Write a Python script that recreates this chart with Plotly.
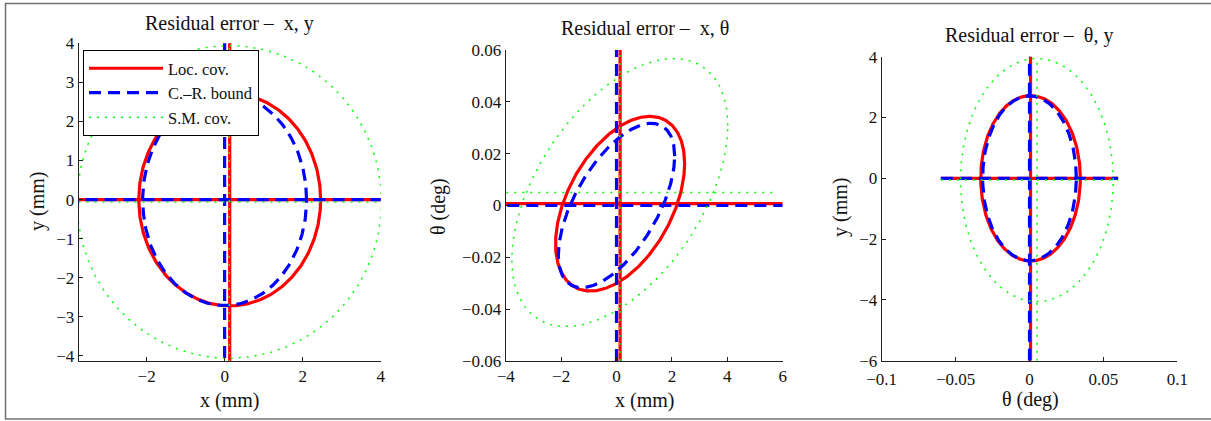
import numpy as np
import plotly.graph_objects as go

# ---------------- data ----------------
series_names = ["Loc. cov.", "C.\u2013R. bound", "S.M. cov."]
series_colors = ["#ff0000", "#0000ff", "#00ff00"]

# ellipse centres for the three state components
center_x = [0.13, 0.0, 0.12]          # mm
center_theta = [0.0007, 0.0, 0.005]   # deg
center_y = [0.0, 0.0, -0.06]          # mm

# standard deviations (1-sigma ellipse half extents)
sigma_x = [2.33, 2.10, 3.90]
sigma_theta = [0.0337, 0.0317, 0.0517]
sigma_y = [2.72, 2.71, 4.00]

# correlation coefficients between components
rho_x_y = [0.0, 0.0, 0.0]
rho_x_theta = [0.46, 0.60, 0.50]
rho_theta_y = [0.0, 0.0, 0.0]

# extents of the cross lines through each centre
x_line_lo = [-6.0, -6.0, -6.0]
x_line_hi = [6.0, 6.0, 5.8]
theta_line_lo = [-0.06, -0.06, -0.06]
theta_line_hi = [0.06, 0.06, 0.06]
y_line_lo = [-6.0, -6.0, -6.0]
y_line_hi = [6.0, 6.0, 6.0]

# axis ticks
p1_xticks = [-2, 0, 2, 4]
p1_yticks = [-4, -3, -2, -1, 0, 1, 2, 3, 4]
p2_xticks = [-4, -2, 0, 2, 4, 6]
p2_yticks = [-0.06, -0.04, -0.02, 0, 0.02, 0.04, 0.06]
p3_xticks = [-0.1, -0.05, 0, 0.05, 0.1]
p3_yticks = [-6, -4, -2, 0, 2, 4]

p1_range_x = [-3.74, 4]
p1_range_y = [-4.13, 4]
p2_range_x = [-4, 6]
p2_range_y = [-0.06, 0.06]
p3_range_x = [-0.1, 0.1]
p3_range_y = [-6, 4]

titles = ["Residual error \u2013  x, y", "Residual error \u2013  x, \u03b8", "Residual error \u2013  \u03b8, y"]
x_titles = ["x (mm)", "x (mm)", "\u03b8 (deg)"]
y_titles = ["y (mm)", "\u03b8 (deg)", "y (mm)"]

# ---------------- helpers ----------------
t = np.linspace(0, 2 * np.pi, 361)


def ellipse(ca, cb, sa, sb, rho):
    a = ca + sa * np.cos(t)
    b = cb + sb * (rho * np.cos(t) + np.sqrt(1 - rho ** 2) * np.sin(t))
    return a, b


def fmt(v):
    if v == 0:
        return "0"
    s = ("%g" % abs(v))
    return ("\u2212" + s) if v < 0 else s


line_w = [3.2, 3.2, 1.5]
dashes = ["solid", "12px,7px", "2px,6px"]

W, H = 1211, 421
FONT = "Liberation Serif, Times New Roman, serif"

fig = go.Figure()

panels = [
    ("x", "y", ""),
    ("x", "theta", "2"),
    ("theta", "y", "3"),
]
centers = {"x": center_x, "theta": center_theta, "y": center_y}
sigmas = {"x": sigma_x, "theta": sigma_theta, "y": sigma_y}
rhos = {("x", "y"): rho_x_y, ("x", "theta"): rho_x_theta, ("theta", "y"): rho_theta_y}
line_lo = {"x": x_line_lo, "theta": theta_line_lo, "y": y_line_lo}
line_hi = {"x": x_line_hi, "theta": theta_line_hi, "y": y_line_hi}

for pi, (ka, kb, sfx) in enumerate(panels):
    for si in range(3):
        ca, cb = centers[ka][si], centers[kb][si]
        ea, eb = ellipse(ca, cb, sigmas[ka][si], sigmas[kb][si], rhos[(ka, kb)][si])
        style = dict(color=series_colors[si], width=line_w[si], dash=dashes[si])
        common = dict(xaxis="x" + sfx, yaxis="y" + sfx, mode="lines", line=style,
                      hoverinfo="skip")
        fig.add_trace(go.Scatter(x=ea, y=eb, name=series_names[si],
                                 showlegend=(pi == 0), **common))
        fig.add_trace(go.Scatter(x=[line_lo[ka][si], line_hi[ka][si]], y=[cb, cb],
                                 showlegend=False, name=series_names[si], **common))
        fig.add_trace(go.Scatter(x=[ca, ca], y=[line_lo[kb][si], line_hi[kb][si]],
                                 showlegend=False, name=series_names[si], **common))


# ---------------- layout ----------------
def px_x(p):
    return p / W


def px_y(p):
    return 1 - p / H


axis_common = dict(showgrid=False, zeroline=False, showline=True, linecolor="#222222",
                   linewidth=1, ticks="inside", ticklen=4, tickcolor="#222222",
                   automargin=False,
                   tickfont=dict(family=FONT, size=17, color="#111111"), mirror=False)

domains = [
    ([78.7, 380.7], [43.3, 361]),
    ([505.7, 782.7], [50, 361]),
    ([881.7, 1177.3], [56.7, 360.7]),
]
ranges = [(p1_range_x, p1_range_y), (p2_range_x, p2_range_y), (p3_range_x, p3_range_y)]
ticks = [(p1_xticks, p1_yticks), (p2_xticks, p2_yticks), (p3_xticks, p3_yticks)]

layout = dict(
    template="none",
    width=W, height=H, margin=dict(l=0, r=0, t=0, b=0, pad=0, autoexpand=False),
    paper_bgcolor="white", plot_bgcolor="white",
    font=dict(family=FONT, size=17, color="#111111"),
    showlegend=True,
    legend=dict(x=px_x(83), y=px_y(50), xanchor="left", yanchor="top",
                bgcolor="white", bordercolor="#000000", borderwidth=1,
                font=dict(family=FONT, size=16.5, color="#111111"),
                tracegroupgap=0, itemwidth=74),
)

title_pos = [(229, 24), (645, 28), (1029, 36)]
xlab_pos = [(229, 400), (644, 400), (1030, 399)]
ylab_pos = [(37, 202), (438, 207), (840, 208)]
annotations = []
for i in range(3):
    sfx = "" if i == 0 else str(i + 1)
    (dx0, dx1), (dy0, dy1) = domains[i]
    xa = dict(axis_common, domain=[px_x(dx0), px_x(dx1)], range=ranges[i][0],
              tickvals=ticks[i][0], ticktext=[fmt(v) for v in ticks[i][0]],
              anchor="y" + sfx)
    if i == 2:
        xa["ticklabelstandoff"] = 3
    ya = dict(axis_common, domain=[px_y(dy1), px_y(dy0)], range=ranges[i][1],
              tickvals=ticks[i][1], ticktext=[fmt(v) for v in ticks[i][1]],
              anchor="x" + sfx)
    layout["xaxis" + sfx] = xa
    layout["yaxis" + sfx] = ya
    annotations.append(dict(text=titles[i], x=px_x(title_pos[i][0]), y=px_y(title_pos[i][1]),
                            xref="paper", yref="paper", showarrow=False,
                            xanchor="center", yanchor="middle",
                            font=dict(family=FONT, size=20, color="#111111")))
    annotations.append(dict(text=x_titles[i], x=px_x(xlab_pos[i][0]), y=px_y(xlab_pos[i][1]),
                            xref="paper", yref="paper", showarrow=False,
                            xanchor="center", yanchor="middle",
                            font=dict(family=FONT, size=20, color="#111111")))
    annotations.append(dict(text=y_titles[i], x=px_x(ylab_pos[i][0]), y=px_y(ylab_pos[i][1]),
                            xref="paper", yref="paper", showarrow=False, textangle=-90,
                            xanchor="center", yanchor="middle",
                            font=dict(family=FONT, size=20, color="#111111")))

layout["annotations"] = annotations
layout["shapes"] = [dict(type="rect", xref="paper", yref="paper",
                         x0=px_x(5.5), x1=px_x(1220), y0=px_y(419), y1=px_y(3.5),
                         line=dict(color="#707070", width=1.5), fillcolor="rgba(0,0,0,0)",
                         layer="below")]

fig.update_layout(**layout)
fig.write_html("out.html", config={"displayModeBar": False},
               post_script="document.body.style.margin='0px';document.body.style.padding='0px';document.body.style.overflow='hidden';")
